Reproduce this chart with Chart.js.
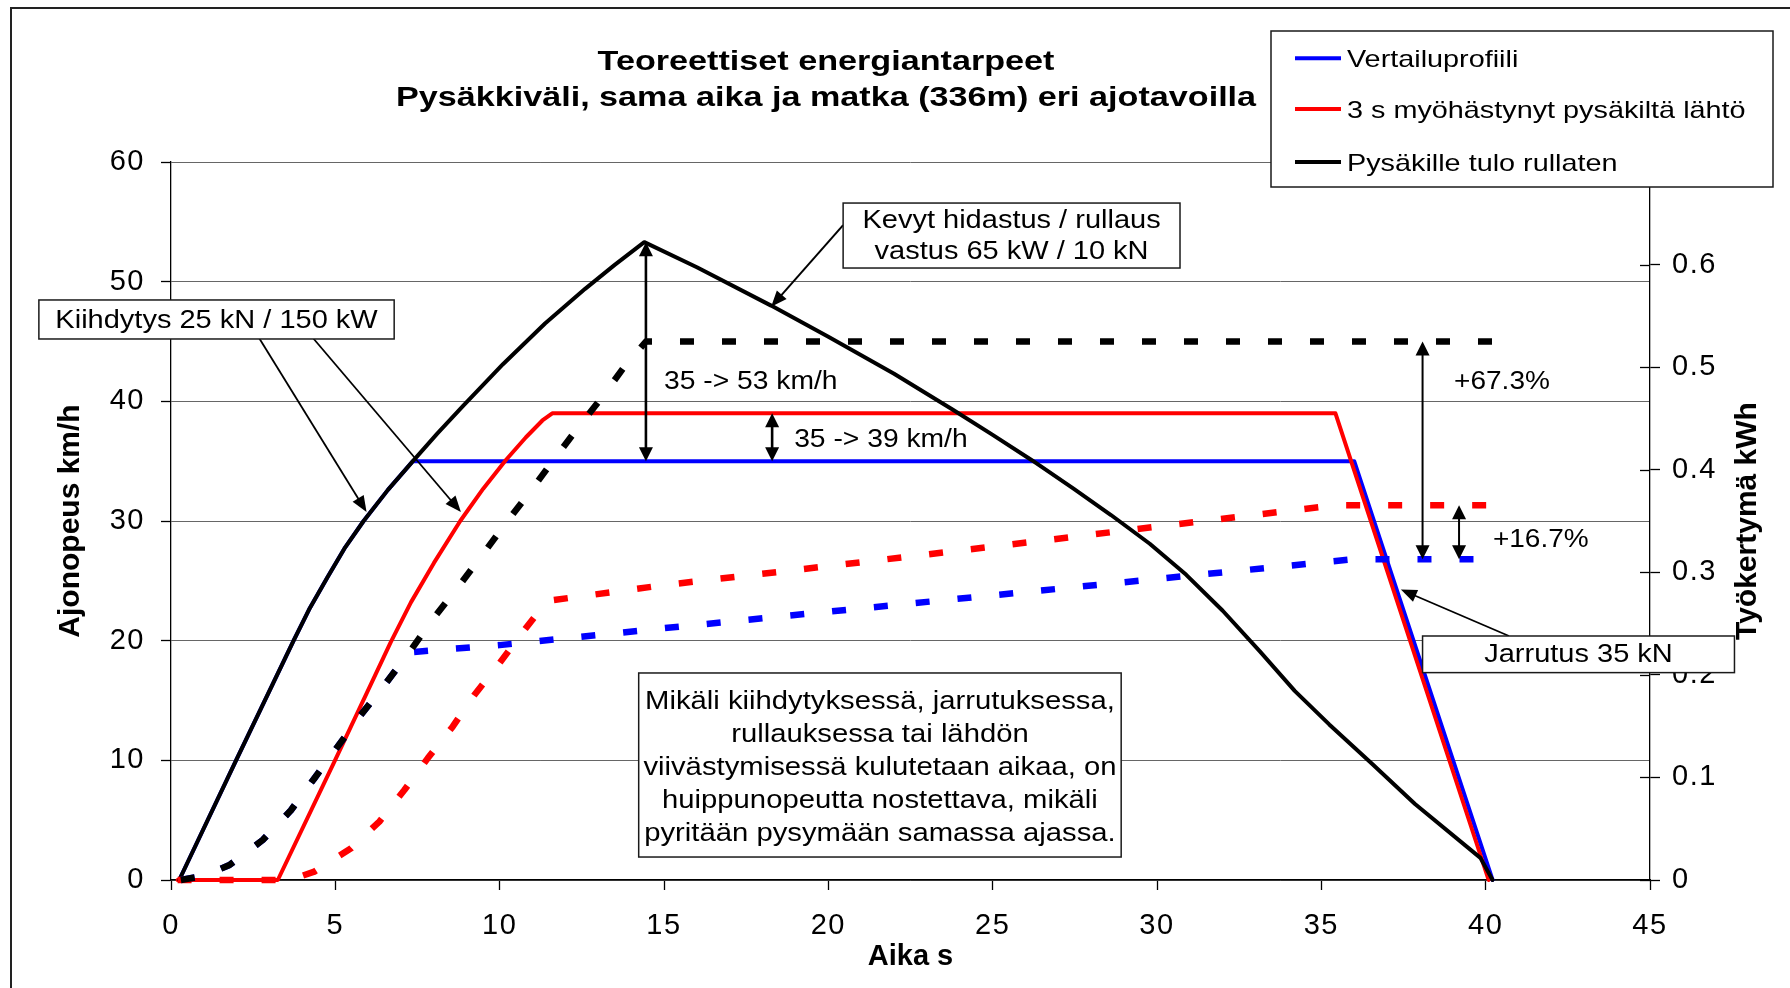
<!DOCTYPE html>
<html>
<head>
<meta charset="utf-8">
<script src="https://cdn.jsdelivr.net/npm/chart.js@4.4.1/dist/chart.umd.min.js"></script>
<style>
html,body{margin:0;padding:0;background:#fff;overflow:hidden}
canvas{display:block}
</style>
</head>
<body>
<canvas id="c" width="1790" height="988"></canvas>
<script>
// ---------------- data ----------------
const chartTitle = ['Teoreettiset energiantarpeet', 'Pysäkkiväli, sama aika ja matka (336m) eri ajotavoilla'];
const xTitle = 'Aika s';
const yTitle = 'Ajonopeus km/h';
const y2Title = 'Työkertymä kWh';
const seriesNames = ['Vertailuprofiili', '3 s myöhästynyt pysäkiltä lähtö', 'Pysäkille tulo rullaten'];
const workNames = ['Vertailuprofiili, työ', '3 s myöhästynyt, työ', 'Rullaten, työ'];

const xRange = [0, 45, 5];      // min, max, step (s)
const yRange = [0, 60, 10];     // km/h
const y2Range = [0, 0.7, 0.1];  // kWh

// speed, km/h (left axis)
const blueSpeedT  = [0.25, 1.98, 3.73, 4.2, 4.77, 5.3, 5.86, 6.6, 7.36, 36.0, 40.21];
const blueSpeedV  = [0, 10, 20, 22.6, 25.35, 27.8, 30, 32.6, 35, 35, 0];

const redSpeedT   = [0.2, 3.25, 4.99, 6.69, 7.3, 8.0, 8.8, 9.5, 10.19, 10.8, 11.3, 11.6, 35.43, 40.09];
const redSpeedV   = [0, 0, 10, 19.9, 23.2, 26.5, 30, 32.7, 35.1, 37.0, 38.4, 39, 39, 0];

const blackSpeedT = [0.25, 1.98, 3.73, 4.2, 4.77, 5.3, 5.86, 6.6, 7.36, 8.1, 8.88, 10.1, 11.38, 12.6, 13.5, 14.4,
                     16.0, 18.26, 20.0, 22.0, 23.79, 25.0, 26.18, 27.46, 28.6, 29.78, 30.89, 32.0, 33.13, 34.19,
                     35.24, 36.55, 37.85, 39.84, 40.21];
const blackSpeedV = [0, 10, 20, 22.6, 25.35, 27.8, 30, 32.6, 35.0, 37.3, 39.6, 43.1, 46.5, 49.4, 51.4, 53.3,
                     51.2, 48.0, 45.4, 42.3, 39.3, 37.2, 35.1, 32.7, 30.5, 28.1, 25.5, 22.5, 19.1, 15.8,
                     13.0, 9.7, 6.35, 1.85, 0];

// accumulated work, kWh (right axis)
const blueWorkT  = [0.3, 1.0, 1.78, 2.79, 3.65, 4.36, 5.07, 5.78, 6.54, 7.25, 10.0, 15.0, 20.0, 25.0, 30.0, 36.0, 40.2];
const blueWorkE  = [0, 0.004, 0.0146, 0.039, 0.068, 0.099, 0.13, 0.161, 0.192, 0.222, 0.229, 0.2455, 0.2616, 0.2775, 0.2935, 0.3128, 0.3128];

const redWorkT   = [0.2, 3.25, 3.8, 4.36, 5.48, 6.34, 7.1, 7.81, 8.57, 9.23, 9.99, 10.75, 11.2, 11.5, 15.0, 20.0, 25.0, 30.0, 35.43, 40.2];
const redWorkE   = [0, 0, 0.002, 0.0081, 0.0309, 0.0569, 0.0877, 0.1186, 0.1495, 0.1804, 0.2112, 0.2437, 0.262, 0.2723, 0.2875, 0.306, 0.325, 0.3445, 0.3654, 0.3654];

const blackWorkT = [0.3, 1.0, 1.78, 2.79, 3.65, 4.36, 5.07, 5.78, 6.54, 7.25, 7.96, 8.72, 9.43, 10.19, 10.89, 11.65, 12.36, 13.12, 13.83, 14.45, 40.2];
const blackWorkE = [0, 0.004, 0.0146, 0.039, 0.068, 0.099, 0.13, 0.161, 0.192, 0.222, 0.254, 0.285, 0.315, 0.348, 0.377, 0.41, 0.44, 0.471, 0.502, 0.525, 0.525];

// annotation texts
const accelNote = 'Kiihdytys 25 kN / 150 kW';
const coastNote = ['Kevyt hidastus / rullaus', 'vastus 65 kW / 10 kN'];
const brakeNote = 'Jarrutus 35 kN';
const infoNote = ['Mikäli kiihdytyksessä, jarrutuksessa,', 'rullauksessa tai lähdön',
                  'viivästymisessä kulutetaan aikaa, on', 'huippunopeutta nostettava, mikäli',
                  'pyritään pysymään samassa ajassa.'];
const diffNotes = ['35 -> 53 km/h', '35 -> 39 km/h', '+67.3%', '+16.7%'];

// ---------------- chart ----------------
const FONT = "'Liberation Sans', Arial, Helvetica, sans-serif";
const TICK_FONT = {family: FONT, size: 29};
const pts = (T, Y) => T.map((t, i) => ({x: t, y: Y[i]}));

function speedSet(label, T, V, color, order) {
  return {label, data: pts(T, V), borderColor: color, backgroundColor: color, borderWidth: 4,
          yAxisID: 'y', order, borderCapStyle: 'round', borderJoinStyle: 'round'};
}
function workSet(label, T, E, color, order) {
  return {label, data: pts(T, E), borderColor: color, backgroundColor: color, borderWidth: 6.5,
          borderDash: [14, 28], yAxisID: 'y2', order, borderCapStyle: 'butt', borderJoinStyle: 'round'};
}

function txt(ctx, s, x, yc, size, o) {
  o = o || {};
  ctx.save();
  ctx.font = (o.bold ? 'bold ' : '') + size + 'px ' + FONT;
  ctx.fillStyle = '#000';
  ctx.textAlign = o.align || 'center';
  ctx.textBaseline = 'alphabetic';
  ctx.translate(x, yc + 0.358 * size);
  ctx.scale(o.hs || 1, 1);
  ctx.fillText(s, 0, 0);
  ctx.restore();
}
function arrow(ctx, x1, y1, x2, y2, o) {
  const L = o.len, W = o.hw;
  const dx = x2 - x1, dy = y2 - y1, d = Math.hypot(dx, dy), ux = dx / d, uy = dy / d;
  let sx = x1, sy = y1;
  const ex = x2 - ux * L * 0.7, ey = y2 - uy * L * 0.7;
  if (o.both) { sx = x1 + ux * L * 0.7; sy = y1 + uy * L * 0.7; }
  ctx.save();
  ctx.strokeStyle = '#000'; ctx.fillStyle = '#000'; ctx.lineWidth = o.lw;
  ctx.beginPath(); ctx.moveTo(sx, sy); ctx.lineTo(ex, ey); ctx.stroke();
  const head = (tx, ty, vx, vy) => {
    ctx.beginPath();
    ctx.moveTo(tx, ty);
    ctx.lineTo(tx - vx * L - vy * W, ty - vy * L + vx * W);
    ctx.lineTo(tx - vx * L + vy * W, ty - vy * L - vx * W);
    ctx.closePath(); ctx.fill();
  };
  head(x2, y2, ux, uy);
  if (o.both) head(x1, y1, -ux, -uy);
  ctx.restore();
}
function box(ctx, x1, y1, x2, y2) {
  ctx.save();
  ctx.fillStyle = '#fff';
  ctx.fillRect(x1, y1, x2 - x1, y2 - y1);
  ctx.strokeStyle = '#1a1a1a'; ctx.lineWidth = 1.5;
  ctx.strokeRect(x1, y1, x2 - x1, y2 - y1);
  ctx.restore();
}

const decor = {
  id: 'decor',
  beforeDraw(c) {
    const ctx = c.ctx;
    ctx.save(); ctx.fillStyle = '#fff'; ctx.fillRect(0, 0, c.width, c.height); ctx.restore();
  },
  afterDatasetsDraw(c) {
    c.ctx.letterSpacing = '1.5px';   // slightly wider tick label text like the original
  },
  afterDraw(c) {
    const ctx = c.ctx;
    ctx.letterSpacing = '0px';
    const sx = c.scales.x, sy = c.scales.y, sy2 = c.scales.y2;
    const X = v => sx.getPixelForValue(v), Y = v => sy.getPixelForValue(v), Y2 = v => sy2.getPixelForValue(v);
    const area = c.chartArea;

    // inner halves of the right axis tick marks (cross ticks)
    ctx.save(); ctx.strokeStyle = '#000'; ctx.lineWidth = 1.3;
    sy2.ticks.forEach(t => { const py = Math.round(Y2(t.value)) + 0.5; ctx.beginPath(); ctx.moveTo(area.right - 10, py); ctx.lineTo(area.right, py); ctx.stroke(); });
    ctx.restore();

    const peak = Math.max(...blackSpeedV), cruise = blueSpeedV[blueSpeedV.length - 2], redTop = Math.max(...redSpeedV);
    const eBlue = blueWorkE[blueWorkE.length - 1], eRed = redWorkE[redWorkE.length - 1], eBlack = blackWorkE[blackWorkE.length - 1];

    // pointer arrows
    const thin = {lw: 1.8, len: 16, hw: 6.5};
    arrow(ctx, X(2.68), Y(45.29), X(5.95), Y(30.75), thin);
    arrow(ctx, X(4.32), Y(45.29), X(8.82), Y(30.75), thin);
    arrow(ctx, X(20.45), Y(54.73), X(18.26), Y(47.9), {lw: 2, len: 16, hw: 6.5});
    arrow(ctx, X(40.71), Y(20.39), X(37.42), Y(24.27), thin);

    // double arrows
    const dbl = {lw: 2.6, len: 14, hw: 7, both: true};
    arrow(ctx, X(14.45), Y(peak), X(14.45), Y(cruise), dbl);
    arrow(ctx, X(18.29), Y(redTop), X(18.29), Y(cruise), dbl);
    arrow(ctx, X(38.08), Y2(eBlack), X(38.08), Y2(eBlue), {lw: 2, len: 14, hw: 7, both: true});
    arrow(ctx, X(39.19), Y2(eRed), X(39.19), Y2(eBlue), {lw: 2, len: 14, hw: 7, both: true});

    // free texts
    const F = 25, HS = 1.16;
    txt(ctx, diffNotes[0], X(15.0), Y(41.78), F, {align: 'left', hs: 1.13});
    txt(ctx, diffNotes[1], X(18.96), Y(36.93), F, {align: 'left', hs: 1.13});
    txt(ctx, diffNotes[2], X(39.04), Y(41.78), F, {align: 'left', hs: 1.12});
    txt(ctx, diffNotes[3], X(40.22), Y(28.54), F, {align: 'left', hs: 1.12});

    // boxes
    box(ctx, X(-4.02), Y(48.47), X(6.79), Y(45.21));
    txt(ctx, accelNote, (X(-4.02) + X(6.79)) / 2, Y(46.84), F, {hs: HS});

    box(ctx, X(20.45), Y(56.57), X(30.70), Y(51.14));
    coastNote.forEach((s, i) => txt(ctx, s, (X(20.45) + X(30.70)) / 2, Y(55.24) + i * 31, F, {hs: HS}));

    box(ctx, X(38.08), Y(20.39), X(47.57), Y(17.33));
    txt(ctx, brakeNote, (X(38.08) + X(47.57)) / 2, Y(18.93), F, {hs: HS});

    box(ctx, X(14.23), Y(17.30), X(28.91), Y(1.92));
    infoNote.forEach((s, i) => txt(ctx, s, (X(14.23) + X(28.91)) / 2, Y(15.0) + i * 32.8, F, {hs: 1.17}));

    // legend
    box(ctx, 1271, 31, 1773, 187);
    const rows = [58.3, 109, 162];
    c.data.datasets.slice(0, 3).forEach((ds, i) => {
      ctx.save(); ctx.strokeStyle = ds.borderColor; ctx.lineWidth = 4;
      ctx.beginPath(); ctx.moveTo(1295, rows[i]); ctx.lineTo(1341, rows[i]); ctx.stroke(); ctx.restore();
      txt(ctx, ds.label, 1347, rows[i], 24, {align: 'left', hs: 1.2});
    });

    // chart title
    txt(ctx, chartTitle[0], 826, 59.5, 28, {bold: true, hs: 1.22});
    txt(ctx, chartTitle[1], 826, 95.5, 28, {bold: true, hs: 1.22});

    // right axis title (reads bottom to top)
    ctx.save();
    ctx.font = 'bold 30px ' + FONT; ctx.fillStyle = '#000'; ctx.textAlign = 'center'; ctx.textBaseline = 'alphabetic';
    ctx.translate(1756, (area.top + area.bottom) / 2); ctx.rotate(-Math.PI / 2);
    ctx.fillText(y2Title, 0, 0);
    ctx.restore();

    // outer frame
    ctx.save(); ctx.strokeStyle = '#222'; ctx.lineWidth = 2;
    ctx.strokeRect(11, 8, 1820, 1020); ctx.restore();
  }
};

new Chart(document.getElementById('c'), {
  type: 'line',
  data: {
    datasets: [
      speedSet(seriesNames[0], blueSpeedT, blueSpeedV, '#0000ff', 6),
      speedSet(seriesNames[1], redSpeedT, redSpeedV, '#ff0000', 5),
      speedSet(seriesNames[2], blackSpeedT, blackSpeedV, '#000000', 4),
      workSet(workNames[0], blueWorkT, blueWorkE, '#0000ff', 3),
      workSet(workNames[1], redWorkT, redWorkE, '#ff0000', 2),
      workSet(workNames[2], blackWorkT, blackWorkE, '#000000', 1)
    ]
  },
  options: {
    responsive: false,
    animation: false,
    devicePixelRatio: 1,
    events: [],
    elements: {point: {radius: 0, hoverRadius: 0}, line: {tension: 0, fill: false}},
    datasets: {line: {clip: 8, pointRadius: 0}},
    layout: {padding: {top: 162, left: 0, right: 0, bottom: 0}},
    plugins: {legend: {display: false}, title: {display: false}, tooltip: {enabled: false}},
    scales: {
      x: {
        type: 'linear', position: 'bottom', min: xRange[0], max: xRange[1],
        ticks: {stepSize: xRange[2], font: TICK_FONT, color: '#000', padding: 19, z: 1, maxRotation: 0, autoSkip: false},
        grid: {drawOnChartArea: false, drawTicks: true, tickLength: 10, tickColor: '#000', tickWidth: 1.3},
        border: {color: '#000', width: 1.5},
        title: {display: true, text: xTitle, font: {family: FONT, size: 29, weight: 'bold'}, color: '#000', padding: {top: 0, bottom: 14}},
        afterFit(s) { s.height = 108; }
      },
      y: {
        type: 'linear', position: 'left', min: yRange[0], max: yRange[1],
        ticks: {stepSize: yRange[2], font: TICK_FONT, color: '#000', padding: 16, z: 1},
        grid: {color: '#666', lineWidth: 1, drawTicks: true, tickLength: 10, tickColor: '#000', tickWidth: 1.3},
        border: {color: '#000', width: 1.3},
        title: {display: true, text: yTitle, font: {family: FONT, size: 30, weight: 'bold'}, color: '#000', padding: {top: 53, bottom: 0}},
        afterFit(s) { s.width = 171; }
      },
      y2: {
        type: 'linear', position: 'right', min: y2Range[0], max: y2Range[1],
        ticks: {stepSize: y2Range[2], font: TICK_FONT, color: '#000', padding: 12, z: 1,
                callback: v => String(Math.round(v * 10) / 10)},
        grid: {drawOnChartArea: false, drawTicks: true, tickLength: 10, tickColor: '#000', tickWidth: 1.3},
        border: {color: '#000', width: 1.3},
        afterFit(s) { s.width = 140; }
      }
    }
  },
  plugins: [decor]
});
</script>
</body>
</html>
